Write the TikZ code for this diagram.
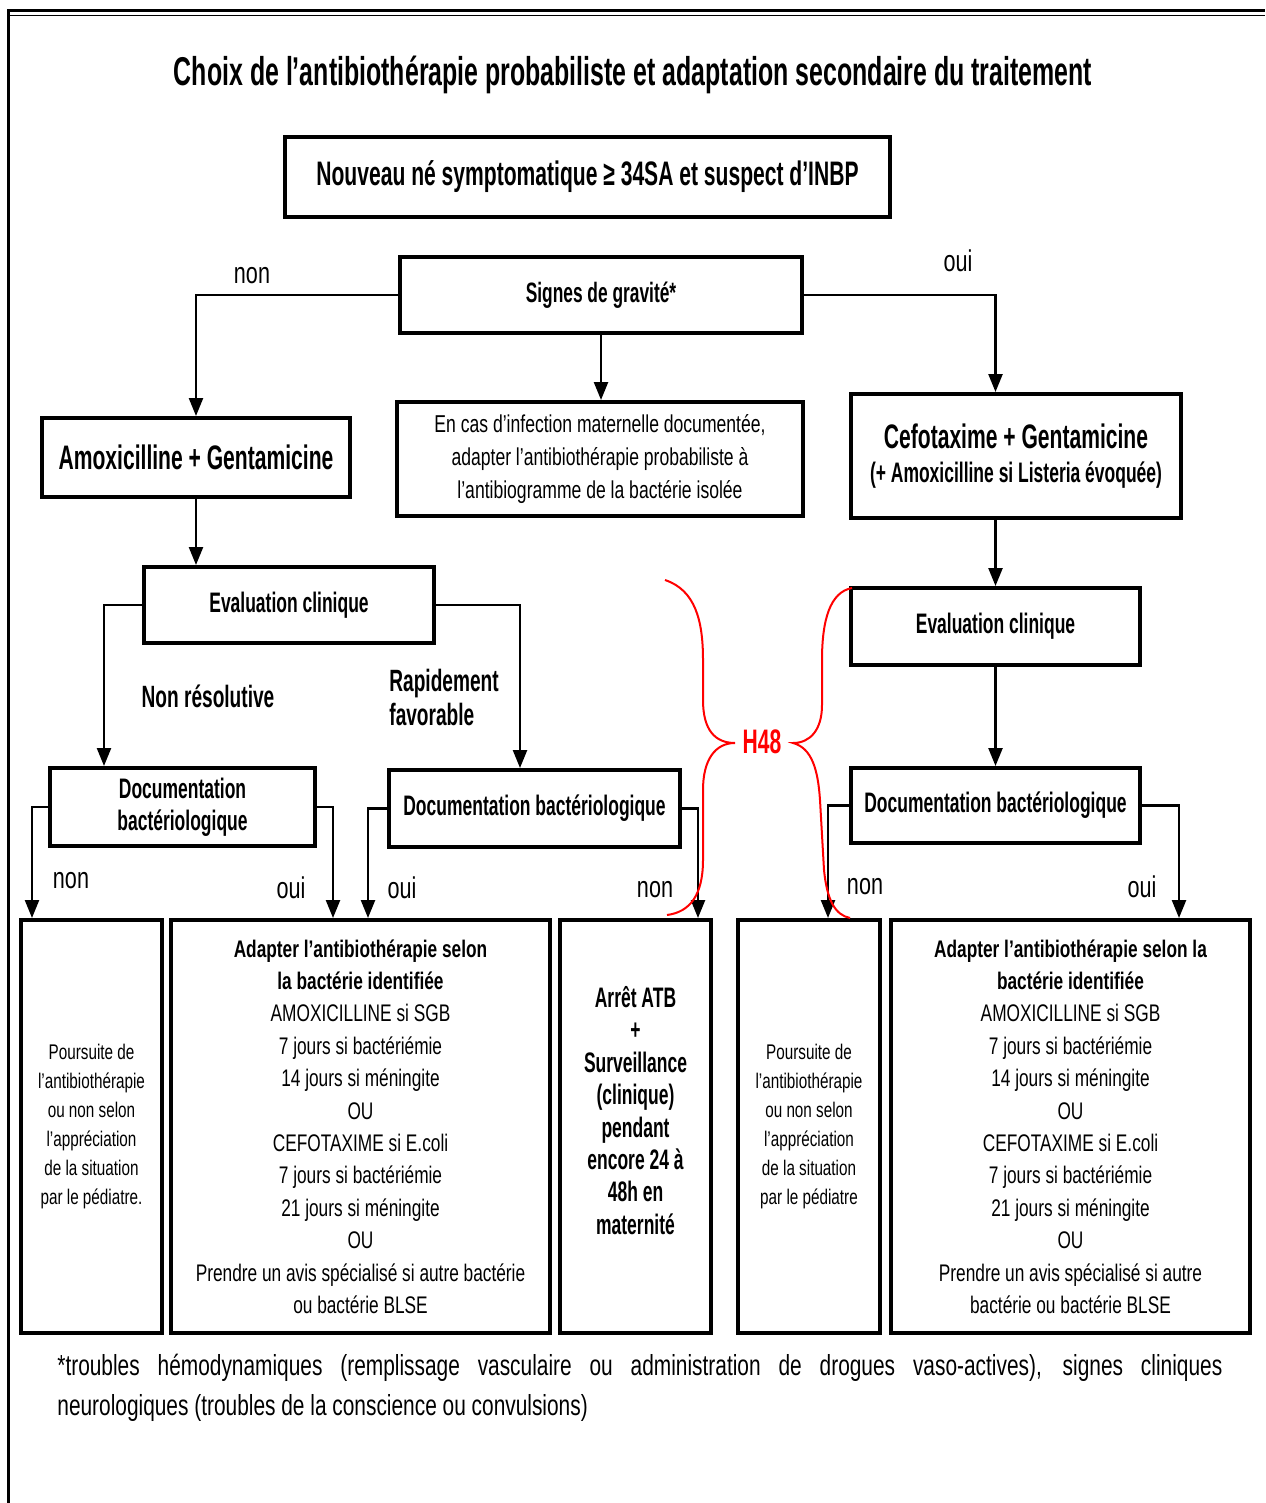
\documentclass[tikz,border=0pt]{standalone}
\usepackage{fontspec}
\setmainfont{Liberation Sans}
\newfontfamily\nb[FakeStretch=0.62]{Liberation Sans}
\newfontfamily\nr[FakeStretch=0.72]{Liberation Sans}
\usetikzlibrary{arrows.meta,calc}
\begin{document}
\begin{tikzpicture}[x=0.5pt,y=-0.5pt,
  box/.style={draw, line width=2pt, inner sep=0pt, align=center},
  arr/.style={line width=1.2pt, -{Triangle[length=9pt,width=7pt]}},
  lbl/.style={inner sep=0pt, font=\nr\fontsize{15}{17}\selectfont},
  blbl/.style={inner sep=0pt, font=\nb\bfseries\fontsize{15.4}{17}\selectfont},
  docf/.style={font=\nb\bfseries\fontsize{14.1}{16}\selectfont},
  brace/.style={draw=red, line width=1pt}]
\useasboundingbox (0,0) rectangle (1265,1503);
% frame
\draw[line width=1.5pt] (8,1503) -- (8,11) -- (1265,11);
\draw[line width=0.5pt] (8,15.5) -- (1265,15.5);
% title
\node[inner sep=0pt, font=\nb\bfseries\fontsize{20.1}{22}\selectfont] (title) at (633,75) {Choix de l’antibiothérapie probabiliste et adaptation secondaire du traitement};
% boxes
\node[box, minimum width=302.5pt, minimum height=40pt, font=\nb\bfseries\fontsize{17}{19}\selectfont] (top) at (587.5,177) {Nouveau né symptomatique ≥ 34SA et suspect d’INBP};
\node[box, minimum width=201pt, minimum height=38pt, font=\nb\bfseries\fontsize{14}{16}\selectfont] (sig) at (601,295) {Signes de gravité*};
\node[box, minimum width=154pt, minimum height=39.5pt, font=\nb\bfseries\fontsize{17}{20}\selectfont] (amox) at (196,457.5) {Amoxicilline + Gentamicine};
\node[box, minimum width=203pt, minimum height=57pt, font=\nr\fontsize{12.2}{16.5}\selectfont] (encas) at (600,459) {En cas d’infection maternelle documentée,\\adapter l’antibiothérapie probabiliste à\\l’antibiogramme de la bactérie isolée};
\node[box, minimum width=165pt, minimum height=62pt] (cefo) at (1016,456) {{\nb\bfseries\fontsize{17}{20}\selectfont Cefotaxime + Gentamicine}\\[5pt]{\nb\bfseries\fontsize{14.1}{16}\selectfont (+ Amoxicilline si Listeria évoquée)}};
\node[box, docf, minimum width=145pt, minimum height=38pt] (evalL) at (289,605) {Evaluation clinique};
\node[box, docf, minimum width=144.5pt, minimum height=38.5pt] (evalR) at (995.5,626.5) {Evaluation clinique};
\node[box, docf, minimum width=132.5pt, minimum height=39pt] (docL) at (182.5,807) {Documentation\\bactériologique};
\node[box, docf, minimum width=145.5pt, minimum height=38.5pt] (docM) at (534.5,808.5) {Documentation bactériologique};
\node[box, docf, minimum width=144.5pt, minimum height=37.5pt] (docR) at (995.5,805.5) {Documentation bactériologique};
% bottom boxes
\node[box, minimum width=70.5pt, minimum height=206.5pt, font=\nr\fontsize{10.6}{14.5}\selectfont] (b1) at (91.5,1126.5) {Poursuite de\\l’antibiothérapie\\ou non selon\\l’appréciation\\de la situation\\par le pédiatre.};
\node[box, minimum width=189.5pt, minimum height=206.5pt, font=\nr\fontsize{12}{16.2}\selectfont] (b2) at (360.5,1126.5) {{\bfseries Adapter l’antibiothérapie selon}\\{\bfseries la bactérie identifiée}\\AMOXICILLINE si SGB\\7 jours si bactériémie\\14 jours si méningite\\OU\\CEFOTAXIME si E.coli\\7 jours si bactériémie\\21 jours si méningite\\OU\\Prendre un avis spécialisé si autre bactérie\\ou bactérie BLSE};
\node[box, minimum width=75.5pt, minimum height=206.5pt, font=\nb\bfseries\fontsize{14.1}{16.2}\selectfont] (b3) at (635.5,1126.5) {Arrêt ATB\\+\\Surveillance\\(clinique)\\pendant\\encore 24 à\\48h en\\maternité\\\mbox{}};
\node[box, minimum width=71pt, minimum height=206.5pt, font=\nr\fontsize{10.6}{14.5}\selectfont] (b4) at (809,1126.5) {Poursuite de\\l’antibiothérapie\\ou non selon\\l’appréciation\\de la situation\\par le pédiatre};
\node[box, minimum width=179.5pt, minimum height=206.5pt, font=\nr\fontsize{12}{16.2}\selectfont] (b5) at (1070.5,1126.5) {{\bfseries Adapter l’antibiothérapie selon la}\\{\bfseries bactérie identifiée}\\AMOXICILLINE si SGB\\7 jours si bactériémie\\14 jours si méningite\\OU\\CEFOTAXIME si E.coli\\7 jours si bactériémie\\21 jours si méningite\\OU\\Prendre un avis spécialisé si autre\\bactérie ou bactérie BLSE};
% connectors
\draw[arr] (sig.west) -| (amox.north);
\draw[arr] (sig.east) -| (evalR.north |- cefo.north);
\draw[arr] (sig.south) -- (sig.south |- encas.north);
\draw[arr] (amox.south) -- (amox.south |- evalL.north);
\draw[arr] (evalL.west) -| ($(docL.north west)+(56,0)$);
\draw[arr] (evalL.east) -| ($(docM.north west)+(133,0)$);
\draw[arr] (evalR.north |- cefo.south) -- (evalR.north);
\draw[arr] (evalR.south) -- (docR.north);
\draw[arr] (docL.west) -| ($(b1.north west)+(13,0)$);
\draw[arr] (docL.east) -| ($(b2.north west)+(164,0)$);
\draw[arr] (docM.west) -| ($(b2.north west)+(199,0)$);
\draw[arr] (docM.east) -| ($(b3.north west)+(140,0)$);
\draw[arr] (docR.west) -| ($(b4.north west)+(92,0)$);
\draw[arr] (docR.east) -| ($(b5.north west)+(290,0)$);
% labels
\node[lbl] (l1) at (252,276) {non};
\node[lbl] (l2) at (958,261) {oui};
\node[blbl] (l3) at (208,696) {Non résolutive};
\node[blbl, align=left, anchor=west] (l4) at (389,697) {Rapidement\\favorable};
\node[lbl] (l5) at (71,881) {non};
\node[lbl] (l6) at (291,888) {oui};
\node[lbl] (l7) at (402,888) {oui};
\node[lbl] (l8) at (655,890) {non};
\node[lbl] (l9) at (865,887) {non};
\node[lbl] (l10) at (1142,887) {oui};
% braces
\node[inner sep=0pt, text=red, font=\nb\bfseries\fontsize{17}{19}\selectfont] (h48) at (762,742) {H48};
\draw[brace] (665,580) .. controls (695,590) and (703,620) .. (703,660) -- (703,700) .. controls (703,730) and (715,743) .. (735,743)
  .. controls (715,743) and (703,760) .. (703,790) -- (703,860) .. controls (703,895) and (690,912) .. (667,915);
\draw[brace] (852,588) .. controls (830,592) and (822,620) .. (822,660) -- (822,705) .. controls (822,730) and (810,743) .. (793,743)
  .. controls (812,748) and (818,770) .. (820,800) -- (824,870) .. controls (827,900) and (835,915) .. (850,918);
% footnote
\node[inner sep=0pt, anchor=north west, text width=582.5pt, align=justify, font=\nr\fontsize{14.5}{20}\selectfont] (foot) at (57,1354) {*troubles hémodynamiques (remplissage vasculaire ou administration de drogues vaso-actives), signes cliniques\linebreak neurologiques (troubles de la conscience ou convulsions)};
\end{tikzpicture}
\end{document}
